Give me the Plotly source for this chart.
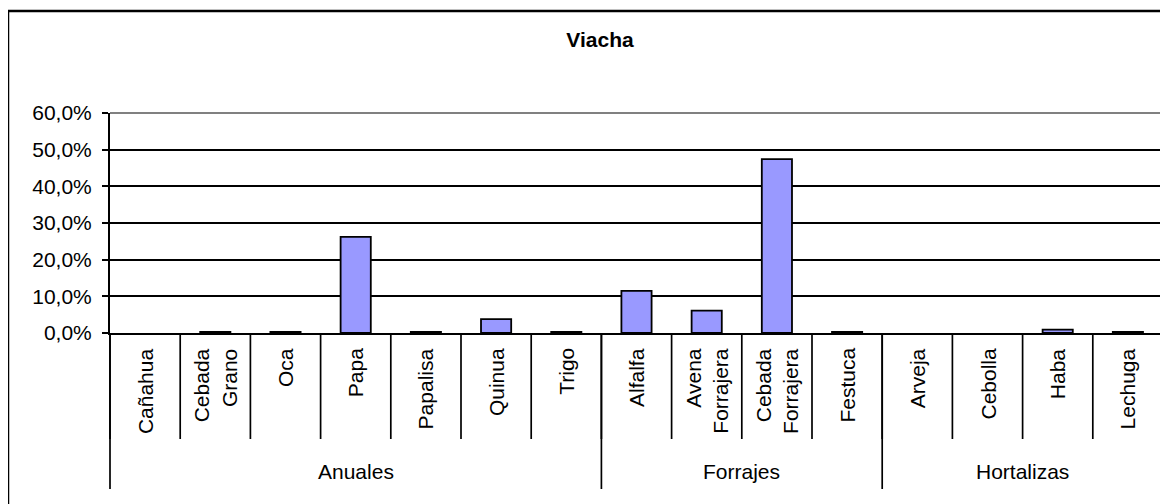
import plotly.graph_objects as go

# ---- data ----
crops = ["Cañahua", "Cebada Grano", "Oca", "Papa", "Papalisa", "Quinua", "Trigo",
         "Alfalfa", "Avena Forrajera", "Cebada Forrajera", "Festuca",
         "Arveja", "Cebolla", "Haba", "Lechuga"]
groups = ["Anuales"] * 7 + ["Forrajes"] * 4 + ["Hortalizas"] * 4
shares = [0.0, 0.003, 0.003, 0.262, 0.003, 0.038, 0.003,
          0.115, 0.061, 0.474, 0.003,
          0.0, 0.0, 0.009, 0.003]
y_ticks = [0.0, 0.1, 0.2, 0.3, 0.4, 0.5, 0.6]
title_text = "Viacha"

# ---- geometry (window pixels; page body has an 8px margin) ----
OFF = 8
W, H = 1168 - OFF, 504 - OFF
PLOT_L, PLOT_R, PLOT_T, PLOT_B = 110, 1163, 113, 333   # window coords
L = PLOT_L - OFF
T = PLOT_T - OFF
R = W - (PLOT_R - OFF)
B = H - (PLOT_B - OFF)
PH = PLOT_B - PLOT_T
PW = PLOT_R - PLOT_L
n = len(crops)
FONT = "Liberation Sans, Arial, sans-serif"
FS = 21


def py(pix):
    """window pixel y -> paper y"""
    return (PLOT_B - pix) / PH


def px(pix):
    return (pix - PLOT_L) / PW


fig = go.Figure()
fig.add_trace(go.Bar(
    x=crops, y=shares, width=0.43,
    marker=dict(color="#9999FF",
                line=dict(color="black", width=[1.8 if v > 0 else 0 for v in shares])),
    hoverinfo="x+y",
))

shapes = []
annotations = []
# category dividers
for b in range(n + 1):
    shapes.append(dict(type="line", xref="paper", yref="paper",
                       x0=b / n, x1=b / n, y0=0, y1=py(439),
                       line=dict(color="black", width=1.7)))
# group dividers and labels
bounds = [0]
for i in range(1, n):
    if groups[i] != groups[i - 1]:
        bounds.append(i)
bounds.append(n)
for b in bounds:
    shapes.append(dict(type="line", xref="paper", yref="paper",
                       x0=b / n, x1=b / n, y0=0, y1=py(489),
                       line=dict(color="black", width=1.7)))
for s, e in zip(bounds[:-1], bounds[1:]):
    annotations.append(dict(text=groups[s], xref="paper", yref="paper",
                            x=(s + e) / 2 / n, y=py(471), xanchor="center",
                            yanchor="middle", showarrow=False,
                            font=dict(family=FONT, size=FS, color="black")))
# category labels
for c in crops:
    annotations.append(dict(text=c.replace(" ", "<br>"), xref="x", yref="paper",
                            x=c, y=py(346), xanchor="center", yanchor="top",
                            textangle=-90, align="right", showarrow=False,
                            font=dict(family=FONT, size=FS, color="black")))
# plot area border (top / right, gray)
shapes.append(dict(type="line", xref="paper", yref="paper", x0=0, x1=1, y0=1, y1=1,
                   line=dict(color="#808080", width=2)))
shapes.append(dict(type="line", xref="paper", yref="paper", x0=1, x1=1, y0=0, y1=1,
                   line=dict(color="#808080", width=2)))
# chart area border
shapes.append(dict(type="rect", xref="paper", yref="paper",
                   x0=px(8), x1=px(1192), y0=py(530), y1=py(11),
                   line=dict(color="black", width=2.5)))

fig.update_layout(
    width=W, height=H,
    margin=dict(l=L, r=R, t=T, b=B),
    paper_bgcolor="white", plot_bgcolor="white",
    separators=",.",
    showlegend=False,
    title=dict(text=title_text, x=(600 - OFF) / W, xref="container", xanchor="center",
               y=1 - (40 - OFF) / H, yref="container", yanchor="middle",
               font=dict(family=FONT, size=FS, color="black", weight="bold")),
    xaxis=dict(type="category", range=[-0.5, n - 0.5], showticklabels=False,
               showgrid=False, zeroline=False, showline=True, linecolor="black",
               linewidth=2, ticks=""),
    yaxis=dict(range=[0, 0.6], tickvals=y_ticks, tickformat=".1%",
               showgrid=True, gridcolor="black", gridwidth=1.5,
               zeroline=False, showline=True, linecolor="black", linewidth=2,
               ticks="outside", ticklen=6, tickwidth=1.5, tickcolor="black",
               ticklabelstandoff=6,
               tickfont=dict(family=FONT, size=FS, color="black")),
    shapes=shapes,
    annotations=annotations,
)

fig.write_html("out.html")
